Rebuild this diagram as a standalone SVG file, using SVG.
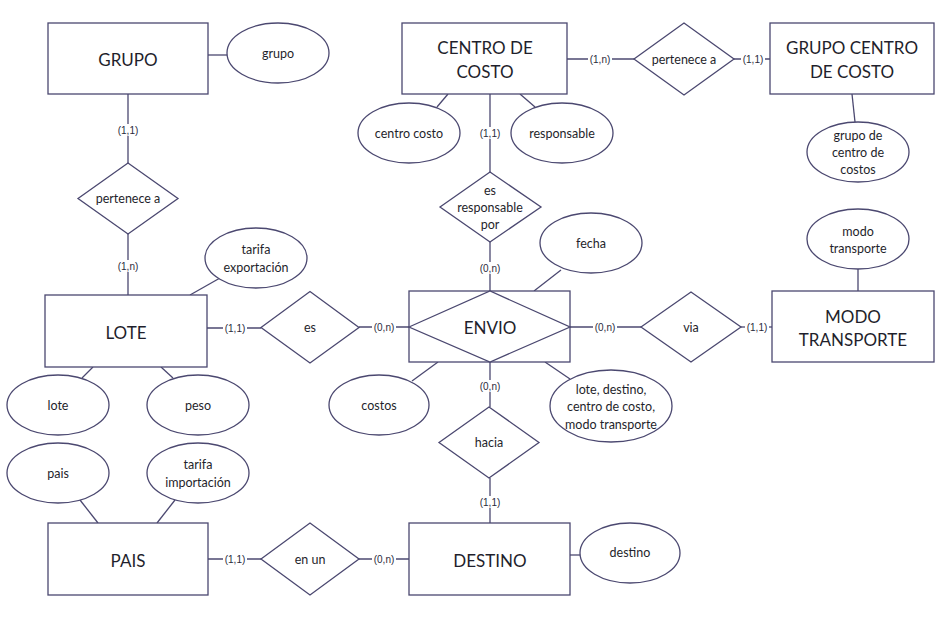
<svg xmlns="http://www.w3.org/2000/svg" width="945" height="621" viewBox="0 0 945 621">
<style>
.shape{fill:#ffffff;stroke:#4b4870;stroke-width:1.3}
.ln{stroke:#4b4870;stroke-width:1.3;fill:none}
text{font-family:Lato,"Open Sans","Liberation Sans",sans-serif;fill:#1f1f2c;text-anchor:middle;dominant-baseline:central}
.ent{font-size:17px}
.att{font-size:12.5px}
.card{font-family:"Liberation Sans",Arial,sans-serif;font-size:10px;fill:#2a2a3c}
.cbg{fill:#ffffff}
</style>
<defs><rect id="bg" class="cbg" x="-12" y="-6" width="24" height="12"/></defs>
<rect width="945" height="621" fill="#ffffff"/>
<g id="connectors">
<line class="ln" x1="208" y1="55" x2="228" y2="55"/>
<line class="ln" x1="128" y1="94" x2="128" y2="163"/>
<line class="ln" x1="128" y1="234" x2="128" y2="295"/>
<line class="ln" x1="190" y1="295" x2="220" y2="278"/>
<line class="ln" x1="93" y1="367" x2="82" y2="378"/>
<line class="ln" x1="161" y1="367" x2="173" y2="378"/>
<line class="ln" x1="207" y1="328" x2="261" y2="328"/>
<line class="ln" x1="359" y1="327" x2="409" y2="327"/>
<line class="ln" x1="80" y1="500" x2="98" y2="523"/>
<line class="ln" x1="175" y1="500" x2="157" y2="523"/>
<line class="ln" x1="208" y1="559" x2="261" y2="559"/>
<line class="ln" x1="359" y1="559" x2="409" y2="559"/>
<line class="ln" x1="448" y1="94" x2="437" y2="107"/>
<line class="ln" x1="520" y1="94" x2="535" y2="107"/>
<line class="ln" x1="567" y1="59" x2="634" y2="59"/>
<line class="ln" x1="734" y1="59" x2="770" y2="59"/>
<line class="ln" x1="852" y1="94" x2="855" y2="122"/>
<line class="ln" x1="490" y1="94" x2="490" y2="172"/>
<line class="ln" x1="490" y1="242" x2="490" y2="291"/>
<line class="ln" x1="561" y1="270" x2="534" y2="291"/>
<line class="ln" x1="570" y1="327" x2="641" y2="327"/>
<line class="ln" x1="741" y1="327" x2="772" y2="327"/>
<line class="ln" x1="858" y1="269" x2="858" y2="291"/>
<line class="ln" x1="438" y1="362" x2="412" y2="381"/>
<line class="ln" x1="545" y1="362" x2="570" y2="379"/>
<line class="ln" x1="490" y1="362" x2="490" y2="407"/>
<line class="ln" x1="490" y1="478" x2="490" y2="523"/>
<line class="ln" x1="570" y1="555" x2="581" y2="555"/>
<use href="#bg" x="128" y="130"/><text class="card" x="128" y="130">(1,1)</text>
<use href="#bg" x="128" y="266"/><text class="card" x="128" y="266">(1,n)</text>
<use href="#bg" x="235" y="328"/><text class="card" x="235" y="328">(1,1)</text>
<use href="#bg" x="384" y="327"/><text class="card" x="384" y="327">(0,n)</text>
<use href="#bg" x="235" y="559"/><text class="card" x="235" y="559">(1,1)</text>
<use href="#bg" x="384" y="559"/><text class="card" x="384" y="559">(0,n)</text>
<use href="#bg" x="600" y="59"/><text class="card" x="600" y="59">(1,n)</text>
<use href="#bg" x="753" y="59"/><text class="card" x="753" y="59">(1,1)</text>
<use href="#bg" x="490" y="133"/><text class="card" x="490" y="133">(1,1)</text>
<use href="#bg" x="490" y="268"/><text class="card" x="490" y="268">(0,n)</text>
<use href="#bg" x="605" y="327"/><text class="card" x="605" y="327">(0,n)</text>
<use href="#bg" x="757" y="327"/><text class="card" x="757" y="327">(1,1)</text>
<use href="#bg" x="490" y="386"/><text class="card" x="490" y="386">(0,n)</text>
<use href="#bg" x="490" y="502"/><text class="card" x="490" y="502">(1,1)</text>
</g>
<g id="grupo-entity"><rect class="shape" x="48" y="23" width="160" height="71"/><text class="ent" x="128" y="59">GRUPO</text></g>
<g id="grupo-attr"><ellipse class="shape" cx="278" cy="53" rx="51" ry="30"/><text class="att" x="278" y="53">grupo</text></g>
<g id="pertenece-a-1"><polygon class="shape" points="78,198.5 128,163 178,198.5 128,234"/><text class="att" x="128" y="198.5">pertenece a</text></g>
<g id="tarifa-exportacion"><ellipse class="shape" cx="256" cy="258" rx="51" ry="30"/><text class="att" x="256" y="249">tarifa</text><text class="att" x="256" y="267">exportación</text></g>
<g id="lote-entity"><rect class="shape" x="45" y="295" width="162" height="72"/><text class="ent" x="126" y="332">LOTE</text></g>
<g id="lote-attr"><ellipse class="shape" cx="58" cy="405" rx="51" ry="30"/><text class="att" x="58" y="405">lote</text></g>
<g id="peso-attr"><ellipse class="shape" cx="198" cy="405" rx="51" ry="30"/><text class="att" x="198" y="405">peso</text></g>
<g id="es-rel"><polygon class="shape" points="261,327.5 310,291.5 359,327.5 310,363"/><text class="att" x="310" y="327">es</text></g>
<g id="pais-attr"><ellipse class="shape" cx="58" cy="473" rx="51" ry="30"/><text class="att" x="58" y="473">pais</text></g>
<g id="tarifa-importacion"><ellipse class="shape" cx="198" cy="473" rx="51" ry="30"/><text class="att" x="198" y="464">tarifa</text><text class="att" x="198" y="482">importación</text></g>
<g id="pais-entity"><rect class="shape" x="48" y="523" width="160" height="72"/><text class="ent" x="128" y="560">PAIS</text></g>
<g id="en-un-rel"><polygon class="shape" points="261,559 310,523 359,559 310,595"/><text class="att" x="310" y="559">en un</text></g>
<g id="centro-de-costo"><rect class="shape" x="402" y="23" width="165" height="71"/><text class="ent" x="485" y="47">CENTRO DE</text><text class="ent" x="485" y="71">COSTO</text></g>
<g id="centro-costo-attr"><ellipse class="shape" cx="409" cy="133" rx="51" ry="30"/><text class="att" x="409" y="133">centro costo</text></g>
<g id="responsable-attr"><ellipse class="shape" cx="562" cy="133" rx="51" ry="30"/><text class="att" x="562" y="133">responsable</text></g>
<g id="pertenece-a-2"><polygon class="shape" points="634,59 684,23 734,59 684,95"/><text class="att" x="684" y="59">pertenece a</text></g>
<g id="grupo-centro-de-costo"><rect class="shape" x="770" y="23" width="164" height="71"/><text class="ent" x="852" y="47">GRUPO CENTRO</text><text class="ent" x="852" y="71">DE COSTO</text></g>
<g id="grupo-de-centro-de-costos"><ellipse class="shape" cx="858" cy="152" rx="51" ry="30"/><text class="att" x="858" y="135.5">grupo de</text><text class="att" x="858" y="152.5">centro de</text><text class="att" x="858" y="169.5">costos</text></g>
<g id="es-responsable-por"><polygon class="shape" points="440,207 490,172 541,207 490,242"/><text class="att" x="490" y="190.5">es</text><text class="att" x="490" y="207.5">responsable</text><text class="att" x="490" y="224.5">por</text></g>
<g id="fecha-attr"><ellipse class="shape" cx="591" cy="243" rx="51" ry="30"/><text class="att" x="591" y="243">fecha</text></g>
<g id="modo-transporte-attr"><ellipse class="shape" cx="858" cy="239" rx="51" ry="30"/><text class="att" x="858" y="231">modo</text><text class="att" x="858" y="248.5">transporte</text></g>
<g id="envio"><rect class="shape" x="409" y="291" width="161" height="71"/><polygon class="shape" points="409,327 490,291 570,327 490,362"/><text class="ent" x="490" y="327">ENVIO</text></g>
<g id="via-rel"><polygon class="shape" points="641,327 691,292 741,327 691,362"/><text class="att" x="691" y="327">via</text></g>
<g id="modo-transporte"><rect class="shape" x="772" y="291" width="162" height="71"/><text class="ent" x="853" y="316">MODO</text><text class="ent" x="853" y="339">TRANSPORTE</text></g>
<g id="costos-attr"><ellipse class="shape" cx="379" cy="405" rx="50" ry="30"/><text class="att" x="379" y="405">costos</text></g>
<g id="clave-envio-attr"><ellipse class="shape" cx="611" cy="406" rx="61" ry="36"/><text class="att" x="611" y="389">lote, destino,</text><text class="att" x="611" y="406.5">centro de costo,</text><text class="att" x="611" y="424">modo transporte</text></g>
<g id="hacia-rel"><polygon class="shape" points="439,442.5 489,407 539,442.5 489,478"/><text class="att" x="489" y="442.5">hacia</text></g>
<g id="destino-entity"><rect class="shape" x="409" y="523" width="161" height="72"/><text class="ent" x="490" y="560">DESTINO</text></g>
<g id="destino-attr"><ellipse class="shape" cx="630" cy="553" rx="50" ry="30"/><text class="att" x="630" y="552">destino</text></g>
</svg>
